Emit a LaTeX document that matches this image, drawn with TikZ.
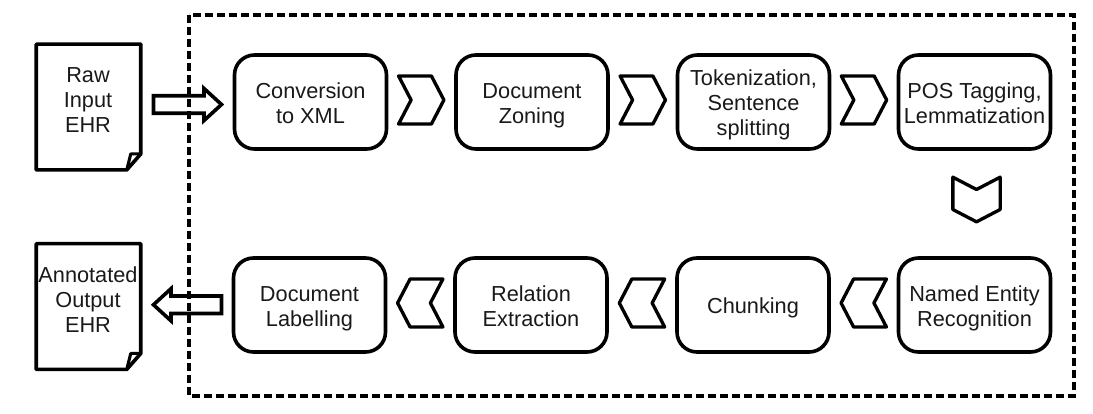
\documentclass[tikz,border=0pt]{standalone}
\usepackage{fontspec}
\setmainfont{Liberation Sans}
\usetikzlibrary{calc}
\usetikzlibrary{shapes.symbols}
\usetikzlibrary{shapes.arrows}

\tikzset{
  evenlines/.style={align=center, execute at end node={\rule[-3.5pt]{0pt}{0pt}}},
  stagebox/.style={rectangle, draw, line width=2.7pt, rounded corners=15pt, minimum width=114pt, minimum height=70.5pt, evenlines, inner sep=0pt},
  chevron/.style={signal, draw, line width=2.5pt, line join=round, signal pointer angle=125, minimum width=34pt, minimum height=36pt, inner sep=0pt},
  blockarrow/.style={single arrow, draw, line width=2.7pt, line join=miter, inner xsep=0pt, inner ysep=5.2pt, minimum height=51pt, minimum width=24pt, single arrow head extend=5.5pt, single arrow tip angle=85},
  docsheet/.style={rectangle, minimum width=78pt, minimum height=94pt, inner sep=0pt}
}

% first line of a box label, keeps the text low enough
\newcommand{\uprule}{\rule{0pt}{16.5pt}}

% page sheet with the folded corner round a named node
\newcommand{\sheetoutline}[1]{
\draw[line width=2.7pt, line join=round] (#1.north west) -- (#1.north east) -- ($(#1.south east)+(0,-16)$) -- ($(#1.south east)+(-14,0)$) -- (#1.south west) -- cycle;
\draw[line width=2.3pt, line join=round] ($(#1.south east)+(-14,0)$) -- ($(#1.south east)+(-10,-16)$) -- ($(#1.south east)+(0,-16)$);
}

\begin{document}
\begin{tikzpicture}[x=.75pt, y=-.75pt, font=\fontsize{16.3}{18.75}\selectfont, text=black!90]
\useasboundingbox (0,0) rectangle (1093,414);

\draw[line width=2.8pt, dash pattern=on 6.3pt off 2.7pt] (189,15) rectangle (1074,396);

\node [docsheet] (d1) at (88.5,107) {};
\node [docsheet] (d2) at (88.5,306.5) {};
\sheetoutline{d1}
\sheetoutline{d2}
\node [evenlines] (t1) at (88,102) {Raw\\Input\\EHR};
\node [evenlines] (t2) at (88,302) {Annotated\\Output\\EHR};

\node [stagebox] (b1) at (310.5,102) {\uprule Conversion\\to XML};
\node [stagebox] (b2) at (532,102) {\uprule Document\\Zoning};
\node [stagebox] (b3) at (753.5,102) {\uprule Tokenization,\\Sentence\\splitting};
\node [stagebox] (b4) at (974.5,102) {\uprule POS Tagging,\\Lemmatization};
\node [stagebox] (b5) at (974.5,305) {\uprule Named Entity\\Recognition};
\node [stagebox] (b6) at (753,305) {\uprule Chunking};
\node [stagebox] (b7) at (531,305) {\uprule Relation\\Extraction};
\node [stagebox] (b8) at (309.5,305) {\uprule Document\\Labelling};

\node [chevron, signal from=west, signal to=east] (c1) at ($(b1)!.5!(b2)+(0,-2)$) {};
\node [chevron, signal from=west, signal to=east] (c2) at ($(b2)!.5!(b3)+(0,-2)$) {};
\node [chevron, signal from=west, signal to=east] (c3) at ($(b3)!.5!(b4)+(0,-2)$) {};
\node [chevron, signal from=north, signal to=south, minimum width=35.5pt, minimum height=15pt] (c4) at ($(b4)!.5!(b5)-(-2,4)$) {};
\node [chevron, signal from=east, signal to=west] (c5) at ($(b5)!.5!(b6)+(0,-2)$) {};
\node [chevron, signal from=east, signal to=west] (c6) at ($(b6)!.5!(b7)+(0,-2)$) {};
\node [chevron, signal from=east, signal to=west] (c7) at ($(b7)!.5!(b8)+(0,-2)$) {};

\node [blockarrow] (r1) at ($(d1.east)!.5!(b1.west)+(-4,0)$) {};
\node [blockarrow, shape border rotate=180] (r2) at ($(d2.east)!.5!(b8.west)+(6,-1)$) {};
\end{tikzpicture}
\end{document}
